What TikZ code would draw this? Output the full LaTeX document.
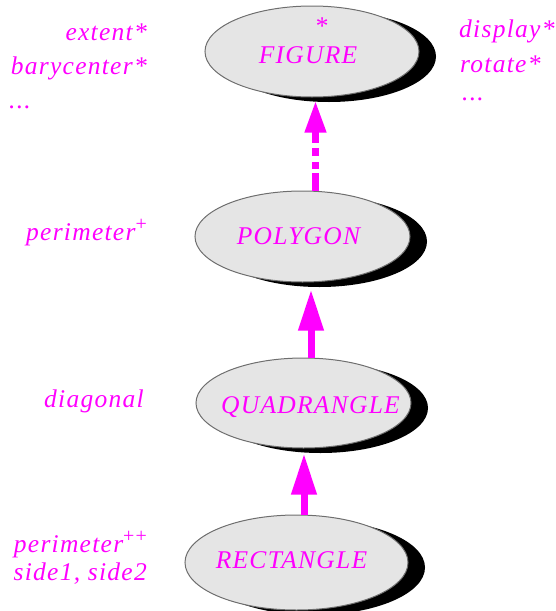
\documentclass[tikz,border=0pt]{standalone}
\usepackage{fontspec}
\setmainfont{Liberation Serif}
\newfontfamily\labfont[LetterSpace=5]{Liberation Serif}
\usetikzlibrary{arrows.meta,shadows,calc,shapes.geometric}
\definecolor{mag}{RGB}{255,0,255}
\definecolor{ellfill}{RGB}{229,229,229}
\definecolor{ellline}{RGB}{110,110,110}
\tikzset{
  cls/.style={ellipse, draw=ellline, line width=1pt, fill=ellfill, inner sep=0pt,
    drop shadow={shadow xshift=17pt, shadow yshift=-5pt, fill=black, opacity=1}},
  txt/.style={text=mag, inner sep=0pt, font=\labfont\itshape\fontsize{25.5}{28}\selectfont},
  arr/.style={draw=mag, line width=7pt, -{Triangle[width=24pt,length=41pt]}},
  arrsmall/.style={draw=mag, line width=7pt, -{Triangle[width=20pt,length=32pt]}},
}
\newcommand{\supp}[1]{\raisebox{10pt}{\fontsize{20}{20}\selectfont\upshape #1}}
\begin{document}
\begin{tikzpicture}[x=1pt,y=-1pt]
\useasboundingbox (0,0) rectangle (555,611);
% ellipses
\node[cls, minimum width=214pt, minimum height=91pt] (fig) at (312,51.5) {};
\node[cls, minimum width=215pt, minimum height=91pt] (poly) at (302.5,236.5) {};
\node[cls, minimum width=215pt, minimum height=90pt] (quad) at (303.5,403) {};
\node[cls, minimum width=223pt, minimum height=95pt] (rect) at (296.5,562.5) {};
% class names
\node[txt, anchor=base] (figt) at (308,63) {FIGURE};
\node[txt, anchor=base] (figs) at (321,34) {*};
\node[txt, anchor=base] (polyt) at (298.5,244) {POLYGON};
\node[txt, anchor=base] (quadt) at (310.5,413) {QUADRANGLE};
\node[txt, anchor=base] (rectt) at (291.5,568) {RECTANGLE};
% connectors
\path ([xshift=3.5pt]fig.south) coordinate (t1);
\path ([xshift=8.5pt]poly.south) coordinate (t2);
\path ([xshift=0.5pt]quad.south) coordinate (t3);
\draw[arrsmall, dash pattern=on 18pt off 4pt on 7pt off 6pt on 8pt off 5pt on 30pt]
  (t1 |- poly.north) -- ([yshift=-3pt]t1);
\draw[arr] (t2 |- quad.north) -- ([yshift=-7pt]t2);
\draw[arr] (t3 |- rect.north) -- ([yshift=-5pt]t3);
% left feature labels
\node[txt, anchor=base east] (l1) at (147,40) {extent*};
\node[txt, anchor=base east] (l2) at (147,74) {barycenter*};
\node[txt, anchor=base west] (l3) at (9,108) {...};
\node[txt, anchor=base east] (l4) at (147,240) {perimeter\supp{+}};
\node[txt, anchor=base east] (l5) at (144,407) {diagonal};
\node[txt, anchor=base east] (l6) at (147,552) {perimeter\supp{++}};
\node[txt, anchor=base east] (l7) at (147,580) {side1, side2};
% right feature labels
\node[txt, anchor=base west] (r1) at (459,37) {display*};
\node[txt, anchor=base west] (r2) at (460,72) {rotate*};
\node[txt, anchor=base west] (r3) at (462,100) {...};
\end{tikzpicture}
\end{document}
